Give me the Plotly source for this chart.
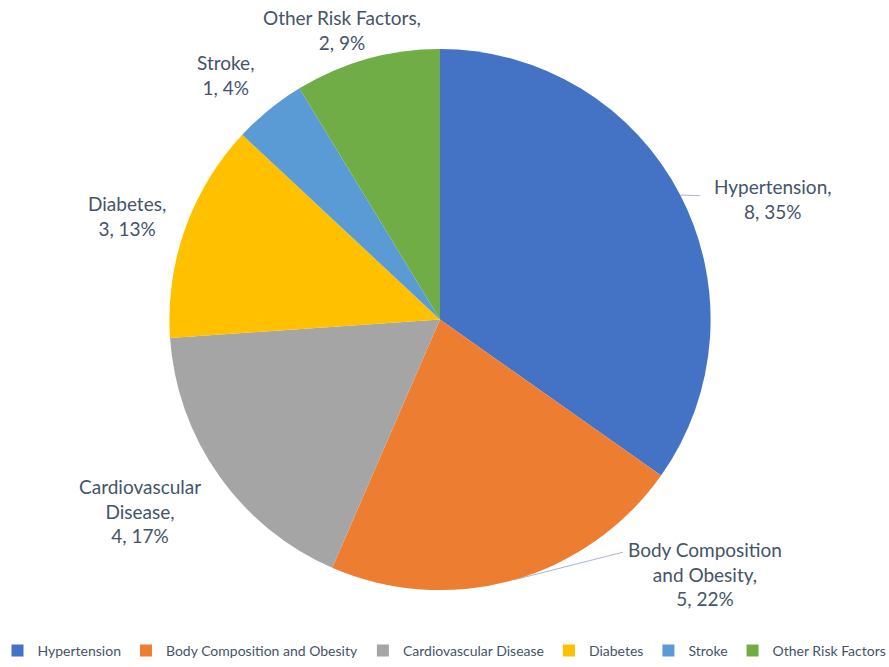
import math
import plotly.graph_objects as go

# ---- data ----
categories = ["Hypertension", "Body Composition and Obesity", "Cardiovascular Disease",
              "Diabetes", "Stroke", "Other Risk Factors"]
values = [8, 5, 4, 3, 1, 2]
label_lines = ["Hypertension,", "Body Composition<br>and Obesity,", "Cardiovascular<br>Disease,",
               "Diabetes,", "Stroke,", "Other Risk Factors,"]

# ---- style / layout ----
colors = ["#4472C4", "#ED7D31", "#A5A5A5", "#FFC000", "#5B9BD5", "#70AD47"]
W, H = 889, 667
CX, CY, R = 440, 320, 271  # pie centre/radius in px (from top)
text_color = "#44546A"
font_family = "Lato, 'Open Sans', sans-serif"
# label block centres (px from top-left), as dragged in the original
label_pos = [(773, 199), (705, 575), (140, 512), (127, 216), (225, 75), (342, 30)]
# leader line end points for labels that have one (None = no leader)
leader_end = [(700, 196), (623, 553), None, None, None, None]

total = sum(values)
fig = go.Figure()

fig.add_trace(go.Pie(
    labels=categories, values=values, sort=False, direction="clockwise", rotation=0,
    marker=dict(colors=colors, line=dict(width=0)),
    textinfo="none", hoverinfo="label+value+percent",
    domain=dict(x=[(CX - R) / W, (CX + R) / W], y=[(H - CY - R) / H, (H - CY + R) / H]),
    showlegend=True,
))

# leader lines, starting on the pie edge at each slice's mid angle
cum = 0
annotations = []
for i, v in enumerate(values):
    mid = (cum + v / 2) / total * 2 * math.pi
    cum += v
    pct = round(v / total * 100)
    annotations.append(dict(
        x=label_pos[i][0], y=label_pos[i][1], xref="x", yref="y",
        text=f"{label_lines[i]}<br>{v}, {pct}%", showarrow=False,
        font=dict(size=19, color=text_color, family=font_family),
        xanchor="center", yanchor="middle", align="center",
    ))
    if leader_end[i] is not None:
        sx = CX + R * math.sin(mid)
        sy = CY - R * math.cos(mid)
        ex, ey = leader_end[i]
        fig.add_trace(go.Scatter(x=[sx, ex], y=[sy, ey], mode="lines",
                                 line=dict(color="#A9B6CD", width=1),
                                 showlegend=False, hoverinfo="skip"))

fig.update_layout(
    width=W, height=H,
    margin=dict(l=0, r=0, t=0, b=0),
    paper_bgcolor="white", plot_bgcolor="rgba(0,0,0,0)",
    xaxis=dict(range=[0, W], visible=False, fixedrange=True),
    yaxis=dict(range=[H, 0], visible=False, fixedrange=True),
    annotations=annotations,
    legend=dict(orientation="h", x=0.5, xanchor="center", y=(H - 652) / H, yanchor="middle",
                font=dict(size=14, color=text_color, family=font_family),
                itemwidth=30, tracegroupgap=0),
    font=dict(family=font_family, color=text_color),
)

fig.write_html("out.html")
